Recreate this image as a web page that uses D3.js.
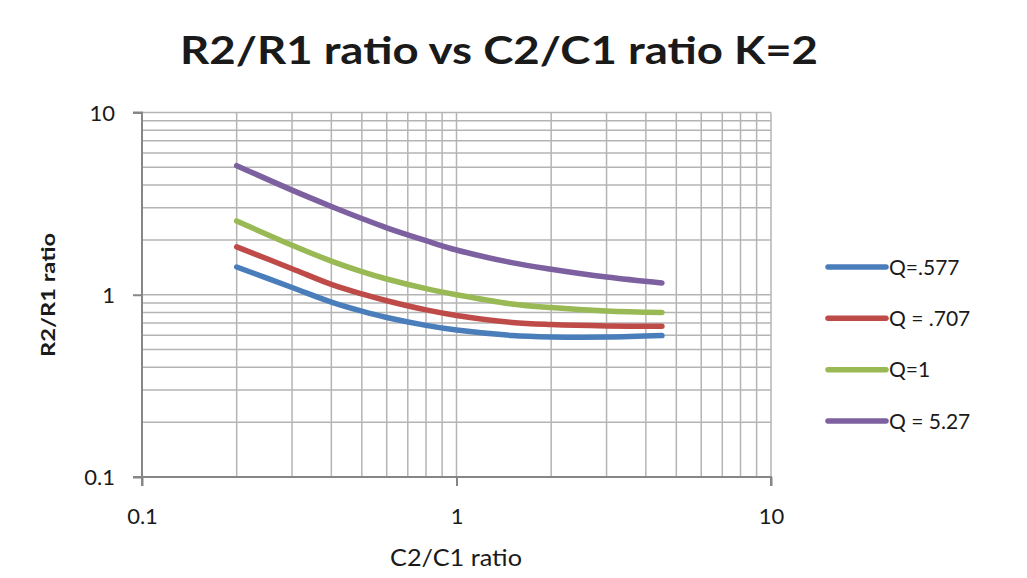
<!DOCTYPE html>
<html>
<head>
<meta charset="utf-8">
<script src="https://cdn.jsdelivr.net/npm/d3@7"></script>
<style>
  html, body { margin: 0; padding: 0; background: #fff; }
  svg { display: block; }
  text { font-family: Lato, "Open Sans", sans-serif; fill: #1a1a1a; }
</style>
</head>
<body>
<svg id="chart" width="1027" height="578"></svg>
<script>
// ---- data ----
const titleText = "R2/R1 ratio vs C2/C1 ratio K=2";
const xLabel = "C2/C1 ratio";
const yLabel = "R2/R1 ratio";
const xTicks = [0.1, 1, 10];
const yTicks = [0.1, 1, 10];
const tickLabels = ["0.1", "1", "10"];
const c2c1 = [0.2, 0.3, 0.4, 0.5, 0.6, 0.8, 1, 1.5, 2, 3, 4.5];
const seriesNames = ["Q=.577", "Q = .707", "Q=1", "Q = 5.27"];
const q577 = [1.42, 1.096, 0.912, 0.813, 0.75, 0.679, 0.64, 0.598, 0.587, 0.586, 0.597];
const q707 = [1.83, 1.39, 1.14, 1.01, 0.927, 0.826, 0.77, 0.705, 0.686, 0.674, 0.671];
const q1   = [2.54, 1.87, 1.53, 1.34, 1.22, 1.08, 1.0, 0.89, 0.85, 0.815, 0.80];
const q527 = [5.11, 3.75, 3.05, 2.62, 2.33, 1.98, 1.76, 1.50, 1.38, 1.25, 1.16];
const seriesValues = [q577, q707, q1, q527];
const seriesColors = ["#4a7ebb", "#be4b48", "#98b954", "#7d60a0"];

// ---- layout ----
const svg = d3.select("#chart");
const L = 142, R = 771, T = 112.5, B = 477;
const x = d3.scaleLog().domain([0.1, 10]).range([L, R]);
const y = d3.scaleLog().domain([0.1, 10]).range([B, T]);

// minor values for grid
const minors = [];
[0.1, 1].forEach(d => { for (let k = 1; k <= 9; k++) minors.push(d * k); });
minors.push(10);

const grid = svg.append("g");
grid.selectAll("line.vx").data(minors).enter().append("line")
  .attr("x1", d => x(d)).attr("x2", d => x(d))
  .attr("y1", T).attr("y2", B)
  .attr("stroke", "#b4b4b4").attr("stroke-width", 1.5);
grid.selectAll("line.hy").data(minors).enter().append("line")
  .attr("y1", d => y(d)).attr("y2", d => y(d))
  .attr("x1", L).attr("x2", R)
  .attr("stroke", "#b4b4b4").attr("stroke-width", 1.5);

// axes
const xAxis = d3.axisBottom(x).tickValues(xTicks).tickSize(9).tickFormat((d, i) => tickLabels[i]);
const yAxis = d3.axisLeft(y).tickValues(yTicks).tickSize(9).tickFormat((d, i) => tickLabels[i]);
const gx = svg.append("g").attr("transform", `translate(0,${B})`).call(xAxis);
const gy = svg.append("g").attr("transform", `translate(${L},0)`).call(yAxis);
[gx, gy].forEach(g => {
  g.select(".domain").attr("stroke", "#868686").attr("stroke-width", 2);
  g.selectAll(".tick line").attr("stroke", "#868686").attr("stroke-width", 2);
  g.selectAll(".tick text").attr("font-size", 22).attr("fill", "#1a1a1a")
    .style("font-family", "Lato, 'Open Sans', sans-serif");
});
gx.select(".domain").attr("d", `M${L},9V0H${R}V9`);
gy.select(".domain").attr("d", `M-9,${B}H0V${T}H-9`);
gx.selectAll(".tick text").attr("dy", "0").attr("y", 47);
gy.selectAll(".tick text").attr("x", -27).attr("dy", "0.36em");

// series
const line = d3.line()
  .x((d, i) => x(c2c1[i]))
  .y(d => y(d))
  .curve(d3.curveCatmullRom.alpha(0.5));
svg.append("g").selectAll("path").data(seriesValues).enter().append("path")
  .attr("d", d => line(d))
  .attr("fill", "none")
  .attr("stroke", (d, i) => seriesColors[i])
  .attr("stroke-width", 5.5)
  .attr("stroke-linecap", "round")
  .attr("stroke-linejoin", "round");

// legend
const leg = svg.append("g");
const legY = d3.scalePoint().domain(d3.range(seriesNames.length)).range([267, 421]);
seriesNames.forEach((name, i) => {
  leg.append("line")
    .attr("x1", 828).attr("x2", 886)
    .attr("y1", legY(i)).attr("y2", legY(i))
    .attr("stroke", seriesColors[i]).attr("stroke-width", 5.5)
    .attr("stroke-linecap", "round");
  leg.append("text")
    .attr("x", 889).attr("y", legY(i)).attr("dy", "0.36em")
    .attr("font-size", 21)
    .text(name);
});

// title and axis titles
svg.append("text")
  .attr("x", 499).attr("y", 64)
  .attr("text-anchor", "middle")
  .attr("font-size", 38).attr("font-weight", "bold")
  .attr("textLength", 638).attr("lengthAdjust", "spacingAndGlyphs")
  .text(titleText);
svg.append("text")
  .attr("x", 456).attr("y", 566)
  .attr("text-anchor", "middle")
  .attr("font-size", 24)
  .attr("textLength", 132).attr("lengthAdjust", "spacingAndGlyphs")
  .text(xLabel);
svg.append("text")
  .attr("transform", "translate(55,295) rotate(-90)")
  .attr("text-anchor", "middle")
  .attr("font-size", 18).attr("font-weight", "bold")
  .attr("textLength", 124).attr("lengthAdjust", "spacingAndGlyphs")
  .text(yLabel);
</script>
</body>
</html>
